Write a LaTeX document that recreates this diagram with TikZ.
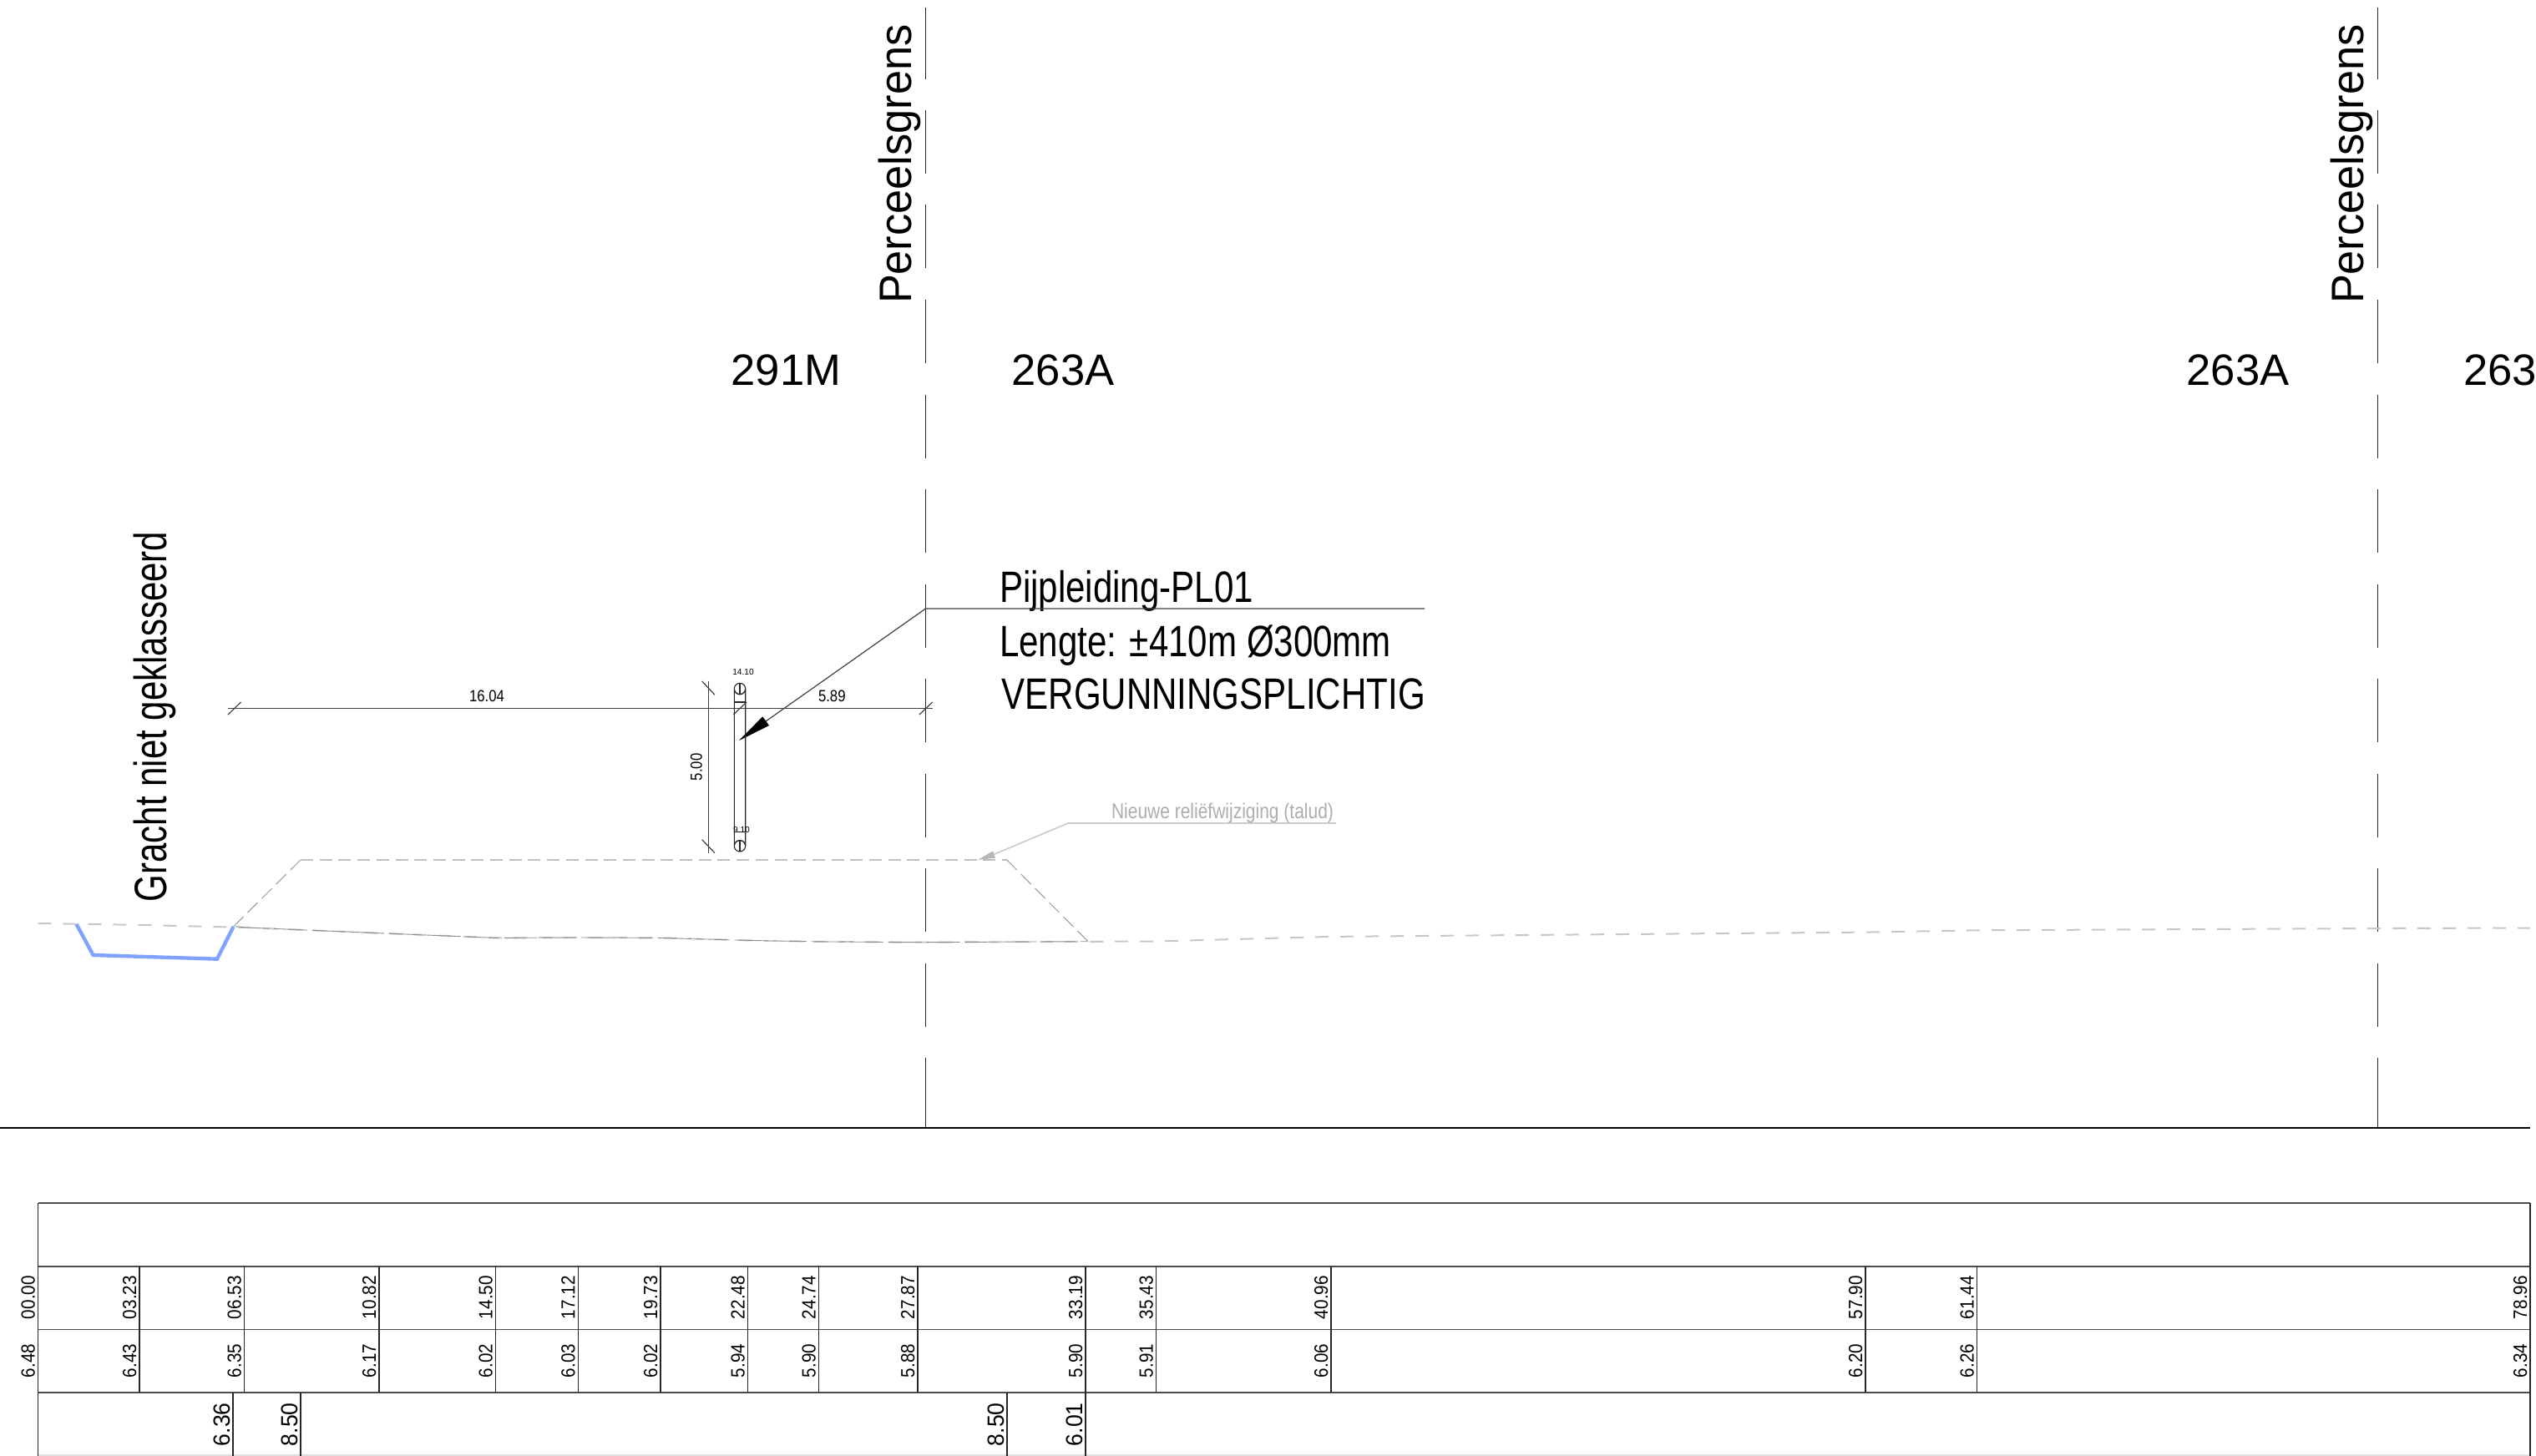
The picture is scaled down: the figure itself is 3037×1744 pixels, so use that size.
\documentclass[tikz,border=0pt]{standalone}
\usepackage{fontspec}
\setmainfont{Liberation Sans}
\newfontfamily\fontA[FakeStretch=0.96]{Liberation Sans}
\newfontfamily\fontB[FakeStretch=0.77]{Liberation Sans}
\newfontfamily\fontC[FakeStretch=0.80]{Liberation Sans}
\newfontfamily\fontD[FakeStretch=0.86]{Liberation Sans}
\newfontfamily\fontE[FakeStretch=0.82]{Liberation Sans}
\newfontfamily\fontF[FakeStretch=0.9]{Liberation Sans}
\newfontfamily\fontG[FakeStretch=0.95]{Liberation Sans}
\newcommand\fsz[1]{\fontsize{#1}{#1}\selectfont}
\definecolor{ditch}{HTML}{7FA3FF}
\tikzset{
  lbl/.style={inner sep=0pt,outer sep=0pt,text=black},
  vlbl/.style={lbl,rotate=90,anchor=base west},
  hlbl/.style={lbl,anchor=base west},
  boundary/.style={line width=.75pt,black!85},
  boundarydash/.style={boundary,dash pattern=on 38pt off 18.75pt},
  rowline/.style={line width=.95pt,black!70},
  colline/.style={line width=.65pt,black!85},
  dimline/.style={line width=.6pt,black!75},
  pipeline/.style={line width=.55pt,black!85},
  grounddash/.style={line width=1pt,black!22,dash pattern=on 8pt off 7pt},
  groundthin/.style={line width=.45pt,black!45,dash pattern=on 20pt off 3pt},
  reliefflat/.style={line width=.85pt,black!25,dash pattern=on 7.5pt off 3.85pt},
  reliefslope/.style={line width=.5pt,black!40,dash pattern=on 8.5pt off 3.5pt},
  noteline/.style={line width=.85pt,black!20},
}
\begin{document}
\begin{tikzpicture}[x=.5pt,y=-.5pt]
\useasboundingbox (0,0) rectangle (3037,1744);
% boundaries
\foreach \bx/\bn in {1108.5/a,2847.5/b}{
  \draw[boundary] (\bx,9) -- (\bx,95);
  \draw[boundarydash] (\bx,132) -- (\bx,1340);
  \draw[boundary] (\bx,1267) -- (\bx,1351);
  \pgfmathsetmacro\tx{\bx-16.8}
  \node[vlbl,name=perceel\bn] at (\tx,364) {\fontA\fsz{27.25}Perceelsgrens};
}
\draw[line width=1.05pt,black] (0,1350.8) -- (3030,1350.8);
% parcels
\node[hlbl,name=pa] at (875.5,461.7) {\fsz{26.3}291M};
\node[hlbl,name=pb] at (1211.5,461.7) {\fsz{26.3}263A};
\node[hlbl,name=pc] at (2618.5,461.7) {\fsz{26.3}263A};
\node[hlbl,name=pd] at (2950,461.7) {\fsz{26.3}263};
\node[vlbl,name=gracht] at (199,1080) {\fontB\fsz{27.25}Gracht niet geklasseerd};
% pipe note
\node[hlbl,name=n1] at (1197,721.7) {\fontC\fsz{26.3}Pijpleiding-PL01};
\node[hlbl,name=n2] at (1197,786) {\fontC\fsz{26.3}Lengte: ±410m Ø300mm};
\node[hlbl,name=n3] at (1199.5,849) {\fontC\fsz{26.3}VERGUNNINGSPLICHTIG};
\coordinate (leadR) at (1706,729);
\coordinate (leadE) at (1108.5,729);
\coordinate (leadB) at (917,864);
\coordinate (leadT) at (885,887);
\draw[dimline] (leadR) -- (leadE) -- (leadB);
\fill[black] (leadT) -- (913.3,858.3) -- (921,869) -- cycle;
% dimensions
\coordinate (dL) at (273,848.5);
\coordinate (dR) at (1116.7,848.5);
\coordinate (dT) at (848.3,816);
\coordinate (dB) at (848.3,1021.7);
\draw[dimline] (dL) -- (dR);
\draw[dimline] (dT) -- (dB);
\draw[dimline] (273,856) -- (288.5,841);
\draw[dimline] (878.3,856) -- (894,841);
\draw[dimline] (1101,856) -- (1116.7,841);
\draw[dimline] (840.7,816) -- (856,832.3);
\draw[dimline] (840.7,1005.7) -- (856,1021.7);
\node[hlbl,name=d1] at (562,840) {\fontD\fsz{9.75}16.04};
\node[hlbl,name=d2] at (980,840.7) {\fontD\fsz{9.75}5.89};
\node[vlbl,name=d3] at (840.7,935) {\fontD\fsz{9.75}5.00};
% pipe
\draw[pipeline] (879.3,825) arc[start angle=180,end angle=0,radius=6.7] -- (892.7,1013.3) arc[start angle=0,end angle=-180,radius=6.7] -- cycle;
\draw[pipeline] (879.3,825) arc[start angle=180,end angle=540,radius=6.7];
\draw[pipeline] (879.3,1013.3) arc[start angle=180,end angle=540,radius=6.7];
\draw[pipeline] (886,818.3) -- (886,831.7);
\draw[pipeline] (886,1006.6) -- (886,1020);
\draw[pipeline] (879.3,841) -- (892.7,841);
\draw[pipeline] (879.3,996.8) -- (892.7,996.8);
\node[hlbl,name=t1] at (877.3,808.3) {\fsz{5.1}14.10};
\node[hlbl,name=t2] at (878,997.3) {\fsz{5.1}9.10};
% ground profile
\draw[grounddash] (45.5,1106) -- (167,1107.9) -- (292.5,1110.9) -- (454,1117.7) -- (593.6,1123.4) -- (692.3,1123) -- (791,1123.4) -- (895.5,1126.4) -- (980.5,1127.9) -- (1099,1128.7) -- (1300,1127.9) -- (1384.5,1127.5) -- (1594,1121.9) -- (2234,1116.6) -- (2367.7,1114.3) -- (2847.5,1112) -- (3030,1111.5);
\draw[groundthin] (282,1109.5) -- (292.5,1110.9) -- (454,1117.7) -- (593.6,1123.4) -- (692.3,1123) -- (791,1123.4) -- (895.5,1126.4) -- (980.5,1127.9) -- (1099,1128.7) -- (1303,1127.7);
% relief
\draw[reliefslope] (279.5,1110) -- (360,1030);
\draw[reliefflat] (360,1030) -- (1205.8,1030);
\draw[reliefslope] (1205.8,1030) -- (1303,1127.7);
\draw[line width=2.2pt,ditch,line join=miter] (91.5,1107) -- (111.6,1144) -- (260,1148.7) -- (279.5,1110);
% relief note
\coordinate (nR) at (1600,986);
\coordinate (nE) at (1279,986);
\coordinate (nB) at (1190,1023.5);
\coordinate (nT) at (1171,1030);
\draw[noteline] (nR) -- (nE) -- (nB);
\fill[black!28] (nT) -- (1189,1019.3) -- (1192,1027.7) -- cycle;
\node[hlbl,name=relief,text=black!32] at (1331,980.7) {\fontE\fsz{12.8}Nieuwe reliëfwijziging (talud)};
% table
\foreach \yy in {1441,1517,1592.5,1668} \draw[rowline] (45.5,\yy) -- (3030,\yy);
\draw[line width=.8pt,black!12] (45.5,1743) -- (3030,1743);
\draw[colline] (45.5,1441) -- (45.5,1744);
\draw[colline] (3030,1441) -- (3030,1744);
\foreach \cx in {167,292.5,454,593.5,692.3,791,895.5,980.5,1099,1300,1384.5,1594,2234,2367.7}
  \draw[colline] (\cx,1517) -- (\cx,1668);
\foreach \cx in {279,360,1206,1300}
  \draw[colline] (\cx,1668) -- (\cx,1744);
\foreach \cx/\ra/\rb [count=\i] in {45.5/00.00/6.48,167/03.23/6.43,292.5/06.53/6.35,454/10.82/6.17,593.5/14.50/6.02,692.3/17.12/6.03,791/19.73/6.02,895.5/22.48/5.94,980.5/24.74/5.90,1099/27.87/5.88,1300/33.19/5.90,1384.5/35.43/5.91,1594/40.96/6.06,2234/57.90/6.20,2367.7/61.44/6.26,3030/78.96/6.34}{
  \pgfmathsetmacro\tx{\cx-4}
  \node[vlbl,name=ra\i] at (\tx,1580) {\fontF\fsz{11.5}\ra};
  \node[vlbl,name=rb\i] at (\tx,1650) {\fontF\fsz{11.5}\rb};
}
\foreach \cx/\rc [count=\i] in {279/6.36,360/8.50,1206/8.50,1300/6.01}{
  \pgfmathsetmacro\tx{\cx-4}
  \node[vlbl,name=rc\i] at (\tx,1732) {\fontG\fsz{14}\rc};
}
\end{tikzpicture}
\end{document}
